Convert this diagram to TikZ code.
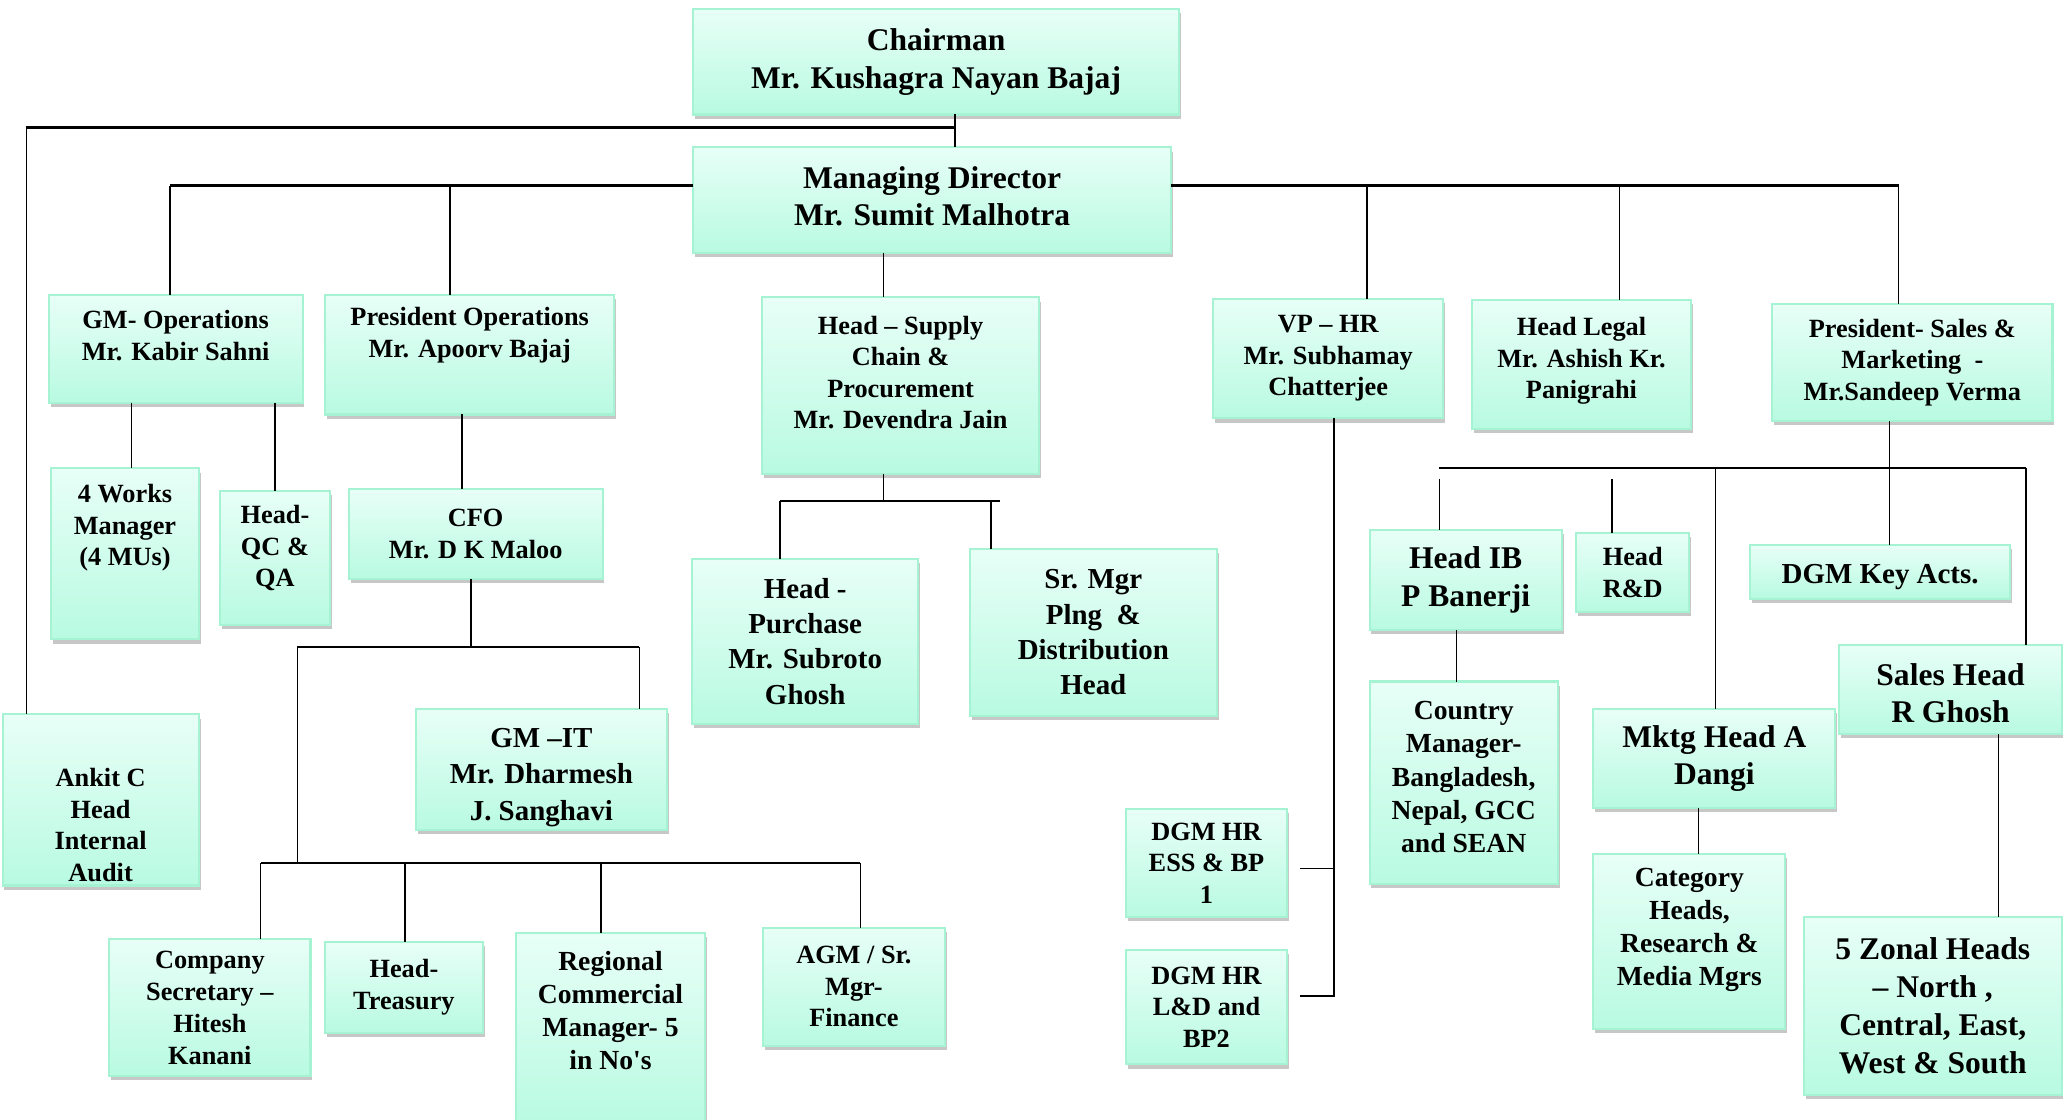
\documentclass[tikz,border=0pt]{standalone}
\usepackage{fontspec}
\setmainfont{Liberation Serif}
\usepackage{tikz}
\usetikzlibrary{shadows}

\definecolor{mtop}{HTML}{E8FFF7}
\definecolor{mbot}{HTML}{B8FAE2}
\definecolor{mline}{HTML}{A6F3D3}
\newcommand{\pushup}[1]{\rule[-#1]{0pt}{#1}}
\newcommand{\pushdown}[1]{\rule{0pt}{#1}}

\begin{document}
\begin{tikzpicture}[
    x=0.5pt, y=-0.5pt,
    post/.style={draw=mline, line width=0.8pt, top color=mtop, bottom color=mbot,
      drop shadow={shadow xshift=0.7pt, shadow yshift=-1.6pt, opacity=0.4, fill=black!55},
      inner sep=0pt, outer sep=0pt, align=center, font=\bfseries\fontsize{10}{12}\selectfont},
    boxsize/.style 2 args={minimum width=#1*0.5pt, minimum height=#2*0.5pt},
    fontL/.style={font=\bfseries\fontsize{12}{14.4}\selectfont},
    fontM/.style={font=\bfseries\fontsize{11}{13.4}\selectfont},
    fontS/.style={font=\bfseries\fontsize{10.5}{12.6}\selectfont},
    wire/.style={line width=0.6pt},
    bar/.style={line width=0.75pt},
    trunk/.style={line width=0.95pt}
    ]
    \useasboundingbox (0,0) rectangle (1568,851);

    % top
    \node[post, fontL, boxsize={369}{80}] (chair) at (711.5,47) {Chairman\\Mr. Kushagra Nayan Bajaj};
    \node[post, fontL, boxsize={363}{80}] (md) at (708.5,152) {Managing Director\\Mr. Sumit Malhotra\pushup{3pt}};

    % second row
    \node[post, boxsize={193}{82}] (gmops) at (133.5,265) {GM- Operations\\Mr. Kabir Sahni\pushup{10pt}};
    \node[post, boxsize={220}{91}] (presops) at (357,269.5) {President Operations\\Mr. Apoorv Bajaj\pushup{17pt}};
    \node[post, boxsize={211}{134}] (supply) at (684.5,293) {Head – Supply\\Chain \&\\Procurement\\Mr. Devendra Jain\pushup{10pt}};
    \node[post, boxsize={175}{91}] (vphr) at (1009.5,272.5) {VP – HR\\Mr. Subhamay\\Chatterjee};
    \node[post, boxsize={166}{98}] (legal) at (1202,277) {Head Legal\\Mr. Ashish Kr.\\Panigrahi\pushup{5pt}};
    \node[post, boxsize={213}{89}] (pressales) at (1453.5,275.5) {President- Sales \&\\Marketing~ -\\Mr.Sandeep Verma};

    % operations and finance
    \node[post, boxsize={112}{130}] (works) at (95,421) {4 Works\\Manager\\(4 MUs)\pushup{22pt}};
    \node[post, boxsize={84}{102}] (qc) at (209,424) {Head-\\QC \&\\QA\pushup{9pt}};
    \node[post, boxsize={193}{68}] (cfo) at (361.5,406) {CFO\\Mr. D K Maloo};
    \node[post, font=\bfseries\fontsize{11}{13.8}\selectfont, boxsize={191}{92}] (gmit) at (411.5,585) {\pushdown{13.3pt}GM –IT\\Mr. Dharmesh\\J. Sanghavi};
    \node[post, boxsize={149}{130}] (ankit) at (76.5,608) {\pushdown{26pt}Ankit C\\Head\\Internal\\Audit};
    \node[post, font=\bfseries\fontsize{10}{12.2}\selectfont, boxsize={153}{104}] (compsec) at (159.5,766) {Company\\Secretary –\\Hitesh\\Kanani};
    \node[post, boxsize={120}{69}] (treasury) at (307,750.5) {Head-\\Treasury};
    \node[post, fontS, boxsize={144}{146}] (regional) at (464,782) {Regional\\Commercial\\Manager- 5\\in No\textquotesingle s\pushup{14pt}};
    \node[post, boxsize={138}{90}] (agm) at (649,750) {AGM / Sr.\\Mgr-\\Finance};

    % supply chain
    \node[post, fontM, boxsize={172}{125}] (purchase) at (612,487.5) {Head -\\Purchase\\Mr. Subroto\\Ghosh};
    \node[post, fontM, boxsize={188}{127}] (srmgr) at (831,480.5) {Sr. Mgr\\Plng~ \&\\Distribution\\Head};

    % hr
    \node[post, boxsize={122}{82}] (dgmhra) at (917,656) {DGM HR\\ESS \& BP\\1};
    \node[post, boxsize={122}{87}] (dgmhrb) at (917,765.5) {DGM HR\\L\&D and\\BP2};

    % sales and marketing
    \node[post, fontL, boxsize={146}{76}] (headib) at (1114,441) {Head IB\\P Banerji};
    \node[post, boxsize={86}{60}] (rnd) at (1241,435) {Head\\R\&D};
    \node[post, fontM, boxsize={198}{41}] (dgmkey) at (1429,434.5) {\pushdown{11.3pt}DGM Key Acts.};
    \node[post, fontS, boxsize={143}{154}] (country) at (1112.5,595) {Country\\Manager-\\Bangladesh,\\Nepal, GCC\\and SEAN\pushup{4.5pt}};
    \node[post, fontL, boxsize={184}{75}] (mktg) at (1303,576.5) {Mktg Head A\\Dangi};
    \node[post, fontL, boxsize={169}{68}] (saleshead) at (1482.5,524) {\pushdown{11.2pt}Sales Head\\R Ghosh};
    \node[post, fontS, boxsize={146}{133}] (category) at (1284,715.5) {Category\\Heads,\\Research \&\\Media Mgrs\pushup{11pt}};
    \node[post, fontL, boxsize={196}{135}] (zonal) at (1469,764.5) {5 Zonal Heads\\– North ,\\Central, East,\\West \& South};

    % junctions
    \coordinate (cj) at (726,97);
    \coordinate (ck) at (20,97);
    \coordinate (ml) at (129,141);
    \coordinate (mr) at (1443,141);
    \coordinate (sp) at (671.5,381);
    \coordinate (spa) at (593,381);
    \coordinate (spb) at (760,381);
    \coordinate (fa) at (358,492);
    \coordinate (fl) at (226,492);
    \coordinate (fr) at (486,492);
    \coordinate (gl) at (198,656);
    \coordinate (gr) at (654,656);
    \coordinate (va) at (1014,757);
    \coordinate (vb) at (988,660);
    \coordinate (vc) at (988,757);
    \coordinate (sl) at (1094,356);
    \coordinate (sr) at (1540,356);

    % chairman and md
    \draw[wire] (chair.south -| cj) -- (md.north -| cj);
    \draw[trunk] (cj) -- (ck);
    \draw[wire] (ck) -- (ankit.north -| ck);
    \draw[trunk] (md.west |- ml) -- (ml);
    \draw[trunk] (md.east |- mr) -- (mr);
    \draw[wire] (ml) -- (gmops.north -| ml);
    \draw[wire] (ml -| 342,0) -- (presops.north -| 342,0);
    \draw[wire] (mr -| 1039,0) -- (vphr.north -| 1039,0);
    \draw[wire] (mr -| 1231,0) -- (legal.north -| 1231,0);
    \draw[wire] (mr) -- (pressales.north -| mr);
    \draw[wire] (md.south -| sp) -- (supply.north -| sp);

    % operations
    \draw[wire] (gmops.south -| 100,0) -- (works.north -| 100,0);
    \draw[wire] (gmops.south -| qc.north) -- (qc.north);
    \draw[wire] (presops.south -| 351,0) -- (cfo.north -| 351,0);

    % finance
    \draw[wire] (cfo.south -| fa) -- (fa);
    \draw[bar] (fl) -- (fr);
    \draw[wire] (fr) -- (gmit.north -| fr);
    \draw[wire] (fl) -- (fl |- gl);
    \draw[bar] (gl) -- (gr);
    \draw[wire] (gl) -- (compsec.north -| gl);
    \draw[wire] (gl -| 308,0) -- (treasury.north -| 308,0);
    \draw[wire] (gl -| 457,0) -- (regional.north -| 457,0);
    \draw[wire] (gr) -- (agm.north -| gr);

    % supply chain
    \draw[wire] (supply.south -| sp) -- (sp);
    \draw[bar] (spa) -- (spb);
    \draw[wire] (spa) -- (purchase.north -| spa);
    \draw[wire] (sp -| 753,0) -- (srmgr.north -| 753,0);

    % hr
    \draw[wire] (vphr.south -| va) -- (va) -- (vc);
    \draw[wire] (vb) -- (vb -| va);

    % sales and marketing
    \draw[wire] (pressales.south -| 1436,0) -- (dgmkey.north -| 1436,0);
    \draw[bar] (sl) -- (sr);
    \draw[wire] (1094,364 -| sl) -- (headib.north -| sl);
    \draw[wire] (sl -| 1225,0) ++(0,8) -- (rnd.north -| 1225,0);
    \draw[wire] (sl -| 1304,0) -- (mktg.north -| 1304,0);
    \draw[wire] (sr) -- (saleshead.north -| sr);
    \draw[wire] (headib.south -| 1107,0) -- (country.north -| 1107,0);
    \draw[wire] (mktg.south -| 1291,0) -- (category.north -| 1291,0);
    \draw[wire] (saleshead.south -| 1519,0) -- (zonal.north -| 1519,0);

\end{tikzpicture}
\end{document}
